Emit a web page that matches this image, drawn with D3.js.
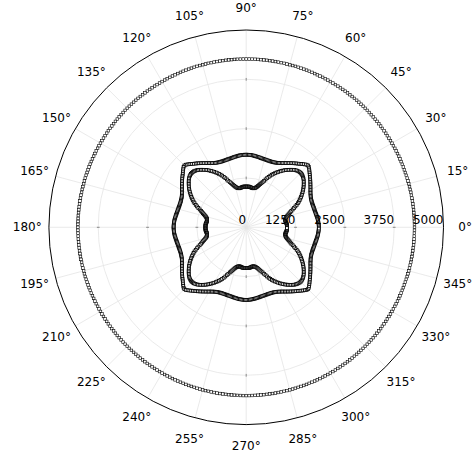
<!DOCTYPE html>
<html>
<head>
<meta charset="utf-8">
<script src="https://cdn.jsdelivr.net/npm/d3@7"></script>
<style>
  body { margin: 0; background: #fff; }
  .chart text { font-family: "DejaVu Sans", sans-serif; font-size: 12px; fill: #000; }
</style>
</head>
<body>
<svg class="chart" width="476" height="457"></svg>

<script>
// radii read per degree over one quadrant (0..89 deg); the picture repeats each quadrant
var outerRing = [
  4265,4265,4265,4265,4265,4265,4265,4265,4265,4265,
  4265,4265,4265,4265,4265,4265,4265,4265,4265,4265,
  4265,4265,4265,4265,4265,4265,4265,4265,4265,4265,
  4265,4265,4265,4265,4265,4265,4265,4265,4265,4265,
  4265,4265,4265,4265,4265,4265,4265,4265,4265,4265,
  4265,4265,4265,4265,4265,4265,4265,4265,4265,4265,
  4265,4265,4265,4265,4265,4265,4265,4265,4265,4265,
  4265,4265,4265,4265,4265,4265,4265,4265,4265,4265,
  4265,4265,4265,4265,4265,4265,4265,4265,4265,4265
];
var squareCurve = [
  1840,1840,1838,1836,1833,1830,1826,1821,1815,1810,
  1805,1800,1795,1791,1788,1785,1783,1781,1780,1780,
  1780,1782,1785,1790,1797,1805,1816,1830,1845,1862,
  1880,1900,1920,1941,1963,1985,2008,2031,2054,2077,
  2100,2127,2154,2180,2205,2215,2205,2180,2154,2127,
  2100,2077,2054,2031,2008,1985,1963,1941,1920,1900,
  1880,1862,1845,1830,1816,1805,1797,1790,1785,1782,
  1780,1780,1780,1781,1783,1785,1788,1791,1795,1800,
  1805,1810,1815,1821,1826,1830,1833,1836,1838,1840
];
var cloverCurve = [
  1030,1032,1034,1034,1032,1028,1022,1016,1010,1006,
  1005,1008,1016,1028,1044,1064,1090,1120,1152,1184,
  1218,1262,1308,1354,1400,1444,1483,1520,1555,1589,
  1622,1654,1685,1716,1746,1774,1800,1825,1850,1875,
  1898,1915,1930,1941,1948,1951,1948,1941,1930,1915,
  1898,1875,1850,1825,1800,1774,1746,1716,1685,1654,
  1622,1589,1555,1520,1483,1444,1400,1354,1308,1262,
  1218,1184,1152,1120,1090,1064,1044,1028,1016,1008,
  1005,1006,1010,1016,1022,1028,1032,1034,1034,1032
];
var radialTicks = [0, 1250, 2500, 3750, 5000];
var angleTicks = [0,15,30,45,60,75,90,105,120,135,150,165,180,195,210,225,240,255,270,285,300,315,330,345];
var quadrants = [0, 90, 180, 270];

var cx = 246.2, cy = 227.3;
var outerR = 197.3;

var r = d3.scaleLinear()
    .domain([0, 5000])
    .range([0, outerR]);

// math angle (deg, ccw from 3 o'clock) -> d3 radial angle
function pos(deg, v) {
  return d3.pointRadial(Math.PI / 2 - deg * Math.PI / 180, r(v));
}

var svg = d3.select(".chart");
var g = svg.append("g")
    .attr("transform", "translate(" + cx + "," + cy + ")");

// grid circles
g.selectAll("circle.grid")
  .data(radialTicks.slice(1, -1))
  .enter().append("circle")
    .attr("r", function(d) { return r(d); })
    .attr("fill", "none")
    .attr("stroke", "#e4e4e4")
    .attr("stroke-width", 0.8);

// spokes
g.selectAll("line.spoke")
  .data(angleTicks)
  .enter().append("line")
    .attr("x1", 0).attr("y1", 0)
    .attr("x2", function(d) { return pos(d, 5000)[0]; })
    .attr("y2", function(d) { return pos(d, 5000)[1]; })
    .attr("stroke", "#e4e4e4")
    .attr("stroke-width", 0.8);

// small ticks on the axes
var axisTicks = [];
quadrants.forEach(function(a) {
  radialTicks.slice(1, -1).forEach(function(v) { axisTicks.push({a: a, v: v}); });
});
g.selectAll("line.tick")
  .data(axisTicks)
  .enter().append("line")
    .attr("x1", function(d) { return pos(d.a, d.v - 35)[0]; })
    .attr("y1", function(d) { return pos(d.a, d.v - 35)[1]; })
    .attr("x2", function(d) { return pos(d.a, d.v + 35)[0]; })
    .attr("y2", function(d) { return pos(d.a, d.v + 35)[1]; })
    .attr("stroke", "#888")
    .attr("stroke-width", 1);

// outer frame
g.append("circle")
    .attr("r", outerR)
    .attr("fill", "none")
    .attr("stroke", "#000")
    .attr("stroke-width", 1);

// series: one quadrant array laid out over the four quadrants
function points(arr) {
  var pts = [];
  quadrants.forEach(function(q) {
    arr.forEach(function(v, i) { pts.push(pos(q + i, v)); });
  });
  return pts;
}

var series = [
  {values: outerRing, side: 2.6, sw: 0.6},
  {values: squareCurve, side: 2.8, sw: 0.85},
  {values: cloverCurve, side: 2.8, sw: 0.85}
];
series.forEach(function(s) {
  g.append("g").selectAll("rect")
    .data(points(s.values))
    .enter().append("rect")
      .attr("x", function(d) { return d[0] - s.side / 2; })
      .attr("y", function(d) { return d[1] - s.side / 2; })
      .attr("width", s.side)
      .attr("height", s.side)
      .attr("fill", "#fff")
      .attr("stroke", "#000")
      .attr("stroke-width", s.sw);
});

// radial labels
g.selectAll("text.rad")
  .data(radialTicks)
  .enter().append("text")
    .attr("x", function(d) { return r(d); })
    .attr("y", -3)
    .attr("text-anchor", "end")
    .text(function(d) { return d; });

// angle labels
g.selectAll("text.ang")
  .data(angleTicks)
  .enter().append("text")
    .attr("x", function(d) { return pos(d, 5000 * 219 / outerR)[0]; })
    .attr("y", function(d) { return pos(d, 5000 * 219 / outerR)[1]; })
    .attr("text-anchor", "middle")
    .attr("dominant-baseline", "central")
    .text(function(d) { return d + "°"; });
</script>
</body>
</html>
